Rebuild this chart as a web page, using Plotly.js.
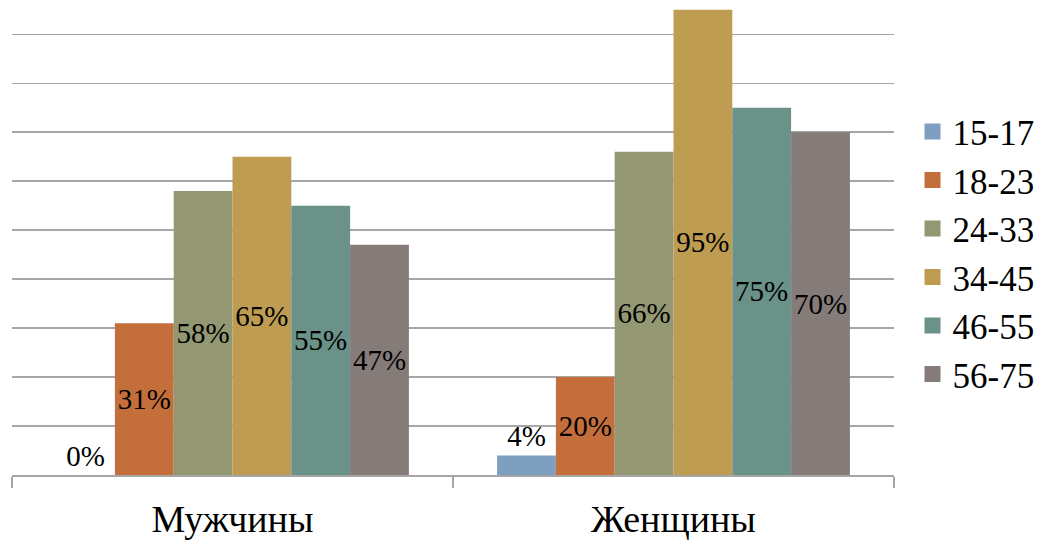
<!DOCTYPE html>
<html>
<head>
<meta charset="utf-8">
<script src="https://cdn.plot.ly/plotly-3.0.1.min.js"></script>
<style>
html,body{margin:0;padding:0;background:#fff;}
#chart{width:1051px;height:542px;}
</style>
</head>
<body>
<div id="chart"></div>
<script>
var categories = ["Мужчины", "Женщины"];
var seriesNames = ["15-17", "18-23", "24-33", "34-45", "46-55", "56-75"];
var v15_17 = [0.00, 0.04];
var v18_23 = [0.31, 0.20];
var v24_33 = [0.58, 0.66];
var v34_45 = [0.65, 0.95];
var v46_55 = [0.55, 0.75];
var v56_75 = [0.47, 0.70];
var seriesValues = [v15_17, v18_23, v24_33, v34_45, v46_55, v56_75];
var colors = ["#7f9fc0", "#c46e3c", "#939872", "#be9d52", "#6a9288", "#857b79"];

var SERIF = "Liberation Serif";

var traces = seriesNames.map(function(name, i){
  var vals = seriesValues[i];
  return {
    type: "bar",
    name: name,
    legendgroup: name,
    showlegend: false,
    x: categories,
    y: vals,
    marker: {color: colors[i]},
    text: vals.map(function(v){ return Math.round(v*100) + "%"; }),
    textposition: vals.map(function(v){ return v < 0.1 ? "outside" : "inside"; }),
    insidetextanchor: "middle",
    textangle: 0,
    constraintext: "none",
    cliponaxis: false,
    textfont: {family: SERIF, size: 29, color: "#000"},
    outsidetextfont: {family: SERIF, size: 29, color: "#000"},
    insidetextfont: {family: SERIF, size: 29, color: "#000"},
    hoverinfo: "skip"
  };
});

// legend-only entries with larger square swatches
seriesNames.forEach(function(name, i){
  traces.push({
    type: "scatter",
    mode: "markers",
    name: name,
    legendgroup: name,
    showlegend: true,
    x: [null],
    y: [null],
    marker: {symbol: "square", size: 20, color: colors[i]},
    hoverinfo: "skip"
  });
});

var layout = {
  width: 1051, height: 542,
  font: {family: SERIF, color: "#000"},
  margin: {l: 12, r: 157, t: 0, b: 67},
  paper_bgcolor: "#fff", plot_bgcolor: "#fff",
  barmode: "group",
  bargap: 0.2,
  bargroupgap: 0,
  showlegend: true,
  legend: {
    x: 1.021, xanchor: "left",
    y: 0.468, yanchor: "middle",
    font: {family: SERIF, size: 35, color: "#000"},
    traceorder: "normal",
    bgcolor: "rgba(0,0,0,0)"
  },
  xaxis: {
    type: "category",
    showline: true, linecolor: "#a6a6a6", linewidth: 1.5,
    ticks: "outside", tickson: "boundaries", ticklen: 11, tickcolor: "#a6a6a6", tickwidth: 1.5,
    tickfont: {family: SERIF, size: 38, color: "#000"},
    ticklabelstandoff: 10,
    showgrid: false, zeroline: false, fixedrange: true
  },
  yaxis: {
    range: [0, 0.97],
    dtick: 0.1, tick0: 0,
    showgrid: true, gridcolor: "#a6a6a6", gridwidth: 1.5,
    showticklabels: false, ticks: "",
    zeroline: false, showline: false, fixedrange: true
  }
};

Plotly.newPlot("chart", traces, layout, {displayModeBar: false, staticPlot: true});
</script>
</body>
</html>
